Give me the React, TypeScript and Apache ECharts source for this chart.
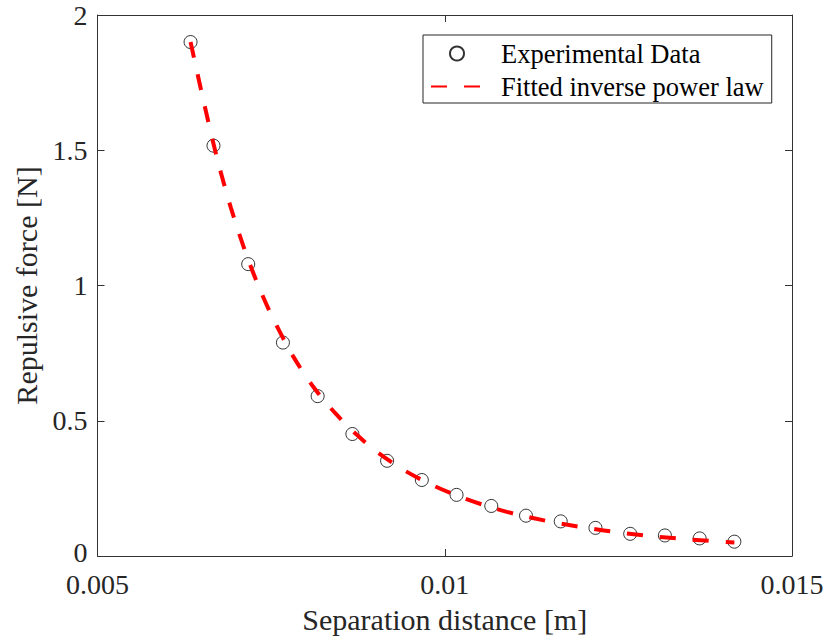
import React, { useEffect, useRef } from "react";
import * as echarts from "echarts";

const distance = [0.00634, 0.00667, 0.00717, 0.00767, 0.00817, 0.00867, 0.00917, 0.00967, 0.01017, 0.01067, 0.01117, 0.01167, 0.01217, 0.01267, 0.01317, 0.01367, 0.01417];
const force = [1.9, 1.517, 1.079, 0.789, 0.591, 0.451, 0.352, 0.281, 0.226, 0.185, 0.149, 0.128, 0.104, 0.082, 0.076, 0.065, 0.053];

const fitX = [0.00634, 0.00652, 0.00672, 0.00692, 0.00712, 0.00732, 0.00752, 0.00782, 0.00812, 0.00843, 0.00873, 0.00903, 0.00943, 0.00983, 0.01023, 0.01063, 0.01103, 0.01154, 0.01204, 0.01254, 0.01304, 0.01354, 0.01417];
const fitY = [1.9, 1.69, 1.472, 1.288, 1.131, 0.997, 0.882, 0.737, 0.621, 0.526, 0.449, 0.384, 0.315, 0.261, 0.218, 0.183, 0.154, 0.126, 0.104, 0.086, 0.072, 0.061, 0.05];

const xTicks = { min: 0.005, max: 0.015, interval: 0.005 };
const yTicks = { min: 0, max: 2, interval: 0.5 };

const seriesNames = ["Experimental Data", "Fitted inverse power law"];
const axisNames = { x: "Separation distance [m]", y: "Repulsive force [N]" };

const FONT = "'Liberation Serif', 'Times New Roman', serif";
const AXIS_COLOR = "#333333";
const TEXT_COLOR = "#262626";
const TICK_SIZE = 28;

export default function App() {
  const ref = useRef<HTMLDivElement>(null);
  useEffect(() => {
    if (!ref.current) return;
    const chart = echarts.init(ref.current, undefined, { renderer: "svg" });
    const fmt = (v: number) => String(parseFloat(Number(v).toPrecision(6)));
    const fmtY = (v: number) => (v === yTicks.min ? "{z|" + fmt(v) + "}" : fmt(v));
    const axisLine = { show: true, onZero: false, lineStyle: { color: AXIS_COLOR, width: 1 } };
    const axisTick = { show: true, inside: true, length: 7, lineStyle: { color: AXIS_COLOR, width: 1 } };
    chart.setOption({
      animation: false,
      backgroundColor: "#ffffff",
      grid: { left: 97.5, right: 36, top: 15, bottom: 87, containLabel: false },
      legend: {
        orient: "vertical",
        left: 423,
        top: 35,
        padding: [5, 8, 3, 7],
        itemGap: 6,
        itemWidth: 52,
        itemHeight: 14,
        borderColor: "#262626",
        borderWidth: 1,
        backgroundColor: "#ffffff",
        textStyle: { fontFamily: FONT, fontSize: 26.5, color: "#000", padding: [0, 0, 0, 13] },
        data: [
          { name: seriesNames[0], icon: "circle" },
          { name: seriesNames[1], itemStyle: { opacity: 0, borderWidth: 0 } },
        ],
      },
      xAxis: [
        {
          type: "value",
          min: xTicks.min,
          max: xTicks.max,
          interval: xTicks.interval,
          position: "bottom",
          name: axisNames.x,
          nameLocation: "middle",
          nameGap: 48,
          nameTextStyle: { fontFamily: FONT, fontSize: 30, color: TEXT_COLOR },
          axisLine,
          axisTick,
          splitLine: { show: false },
          axisLabel: { fontFamily: FONT, fontSize: TICK_SIZE, lineHeight: 22, color: TEXT_COLOR, margin: 17, formatter: fmt },
        },
        {
          type: "value",
          min: xTicks.min,
          max: xTicks.max,
          interval: xTicks.interval,
          position: "top",
          axisLine,
          axisTick,
          splitLine: { show: false },
          axisLabel: { show: false },
        },
      ],
      yAxis: [
        {
          type: "value",
          min: yTicks.min,
          max: yTicks.max,
          interval: yTicks.interval,
          position: "left",
          name: axisNames.y,
          nameLocation: "middle",
          nameGap: 47,
          nameTextStyle: { fontFamily: FONT, fontSize: 30, color: TEXT_COLOR },
          axisLine,
          axisTick,
          splitLine: { show: false },
          axisLabel: {
            fontFamily: FONT,
            fontSize: TICK_SIZE,
            lineHeight: 20,
            color: TEXT_COLOR,
            margin: 10,
            formatter: fmtY,
            rich: {
              z: { fontFamily: FONT, fontSize: TICK_SIZE, lineHeight: 20, color: TEXT_COLOR, padding: [0, 0, 7, 0] },
            },
          },
        },
        {
          type: "value",
          min: yTicks.min,
          max: yTicks.max,
          interval: yTicks.interval,
          position: "right",
          axisLine,
          axisTick,
          splitLine: { show: false },
          axisLabel: { show: false },
        },
      ],
      series: [
        {
          name: seriesNames[0],
          type: "scatter",
          symbol: "circle",
          symbolSize: 13,
          itemStyle: { color: "rgba(255,255,255,0)", borderColor: "#000000", borderWidth: 1 },
          data: distance.map((d, i) => [d, force[i]]),
          z: 2,
        },
        {
          name: seriesNames[1],
          type: "line",
          symbol: "none",
          smooth: 0.3,
          lineStyle: { color: "#ff0000", width: 4, type: [16, 17] },
          itemStyle: { color: "#ff0000" },
          data: fitX.map((d, i) => [d, fitY[i]]),
          z: 3,
        },
      ],
    });
    return () => chart.dispose();
  }, []);
  return <div ref={ref} style={{ position: "fixed", left: 0, top: 0, width: 828, height: 643 }} />;
}
